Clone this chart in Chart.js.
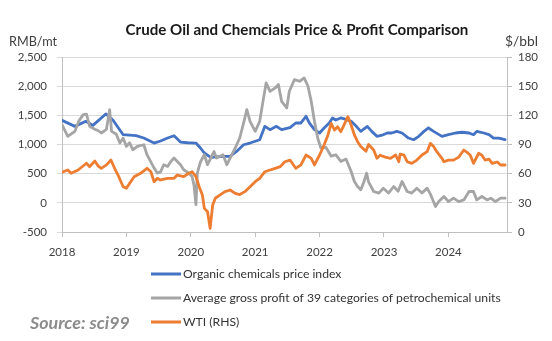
<!DOCTYPE html>
<html><head><meta charset="utf-8">
<script src="https://cdn.jsdelivr.net/npm/chart.js@4.4.1/dist/chart.umd.min.js"></script>
<style>html,body{margin:0;padding:0;background:#fff;}#wrap{position:relative;width:552px;height:341px;}</style>
</head><body><div id="wrap"><canvas id="c" width="552" height="341"></canvas></div>
<script>
const titleText = 'Crude Oil and Chemcials Price & Profit Comparison';
const leftUnit = 'RMB/mt';
const rightUnit = '$/bbl';
const sourceText = 'Source: sci99';
const seriesNames = ['Organic chemicals price index', 'Average gross profit of 39 categories of petrochemical units', 'WTI (RHS)'];
const xTickYears = [2018, 2019, 2020, 2021, 2022, 2023, 2024];
const leftTicks = [-500, 0, 500, 1000, 1500, 2000, 2500];
const rightTicks = [0, 30, 60, 90, 120, 150, 180];

// Organic chemicals price index (RMB/mt)
const chemDates = [
 2018.00,2018.20,2018.37,2018.48,2018.68,2018.79,2018.95,2019.15,2019.27,2019.43,
 2019.53,2019.64,2019.74,2019.84,2019.95,2020.08,2020.15,2020.21,2020.31,2020.50,
 2020.61,2020.71,2020.82,2020.92,2021.07,2021.15,2021.23,2021.33,2021.41,2021.54,
 2021.63,2021.71,2021.79,2021.84,2021.92,2022.00,2022.07,2022.15,2022.20,2022.25,
 2022.33,2022.41,2022.49,2022.57,2022.64,2022.74,2022.81,2022.89,2022.97,2023.05,
 2023.12,2023.20,2023.28,2023.38,2023.46,2023.54,2023.62,2023.69,2023.77,2023.90,
 2024.00,2024.11,2024.21,2024.32,2024.39,2024.44,2024.55,2024.63,2024.70,2024.78,
 2024.88];
const chemIndex = [
 1414,1311,1397,1328,1524,1420,1168,1151,1111,1025,
 1060,1111,1151,1042,1030,1025,940,854,780,795,
 795,881,996,1025,1082,1311,1254,1311,1254,1290,
 1369,1369,1483,1369,1254,1197,1283,1369,1455,1420,
 1455,1430,1397,1311,1225,1311,1225,1140,1160,1197,
 1197,1225,1197,1111,1082,1140,1225,1283,1225,1140,
 1168,1197,1210,1197,1168,1225,1197,1168,1111,1111,
 1082];

// Average gross profit of 39 petrochemical units (RMB/mt)
const profitDates = [
 2018.00,2018.09,2018.20,2018.26,2018.33,2018.38,2018.43,2018.51,2018.56,2018.61,
 2018.69,2018.74,2018.77,2018.84,2018.90,2018.95,2019.00,2019.05,2019.10,2019.17,
 2019.27,2019.32,2019.43,2019.48,2019.53,2019.58,2019.64,2019.69,2019.74,2019.79,
 2019.84,2019.89,2019.97,2020.02,2020.05,2020.08,2020.10,2020.13,2020.15,2020.21,
 2020.26,2020.31,2020.36,2020.40,2020.50,2020.56,2020.61,2020.69,2020.76,2020.82,
 2020.87,2020.92,2021.00,2021.07,2021.13,2021.17,2021.23,2021.31,2021.36,2021.41,
 2021.49,2021.53,2021.61,2021.69,2021.76,2021.82,2021.87,2021.92,2021.97,2022.02,
 2022.10,2022.18,2022.25,2022.33,2022.41,2022.49,2022.54,2022.59,2022.64,2022.69,
 2022.73,2022.76,2022.84,2022.92,2022.99,2023.07,2023.15,2023.22,2023.28,2023.36,
 2023.43,2023.51,2023.59,2023.67,2023.72,2023.80,2023.85,2023.93,2024.00,2024.08,
 2024.16,2024.24,2024.32,2024.39,2024.44,2024.52,2024.60,2024.66,2024.73,2024.81,
 2024.88];
const profitValues = [
 1340,1140,1225,1400,1512,1520,1311,1260,1240,1197,
 1260,1598,1225,1180,1025,1110,967,1030,910,967,
 996,825,596,510,530,653,624,710,768,710,
 653,567,510,452,300,-30,500,624,700,825,
 653,768,880,768,825,653,768,940,1111,1369,
 1598,1397,1225,1397,1799,2056,1912,1970,2027,1740,
 1627,1912,2113,2084,2142,1998,1740,1397,1111,940,
 950,800,825,710,750,538,366,280,223,366,
 510,360,194,167,250,167,280,200,366,194,
 167,250,167,252,150,-63,22,108,22,80,
 22,50,194,194,50,108,50,80,22,80,
 80];

// WTI ($/bbl, right axis)
const wtiDates = [
 2018.00,2018.09,2018.14,2018.25,2018.38,2018.43,2018.51,2018.56,2018.61,2018.69,
 2018.76,2018.82,2018.87,2018.95,2019.00,2019.05,2019.12,2019.22,2019.32,2019.38,
 2019.43,2019.48,2019.53,2019.64,2019.74,2019.79,2019.89,2019.97,2020.02,2020.08,
 2020.13,2020.18,2020.21,2020.26,2020.30,2020.34,2020.38,2020.45,2020.53,2020.61,
 2020.69,2020.76,2020.84,2020.92,2021.00,2021.07,2021.15,2021.23,2021.31,2021.39,
 2021.46,2021.54,2021.63,2021.71,2021.79,2021.87,2021.92,2022.00,2022.07,2022.13,
 2022.18,2022.23,2022.28,2022.33,2022.38,2022.44,2022.49,2022.54,2022.59,2022.64,
 2022.72,2022.76,2022.84,2022.89,2022.94,2023.02,2023.10,2023.18,2023.23,2023.25,
 2023.31,2023.36,2023.43,2023.51,2023.59,2023.67,2023.72,2023.77,2023.82,2023.90,
 2023.93,2024.00,2024.08,2024.16,2024.24,2024.29,2024.34,2024.39,2024.47,2024.52,
 2024.57,2024.63,2024.68,2024.76,2024.81,2024.88];
const wtiValues = [
 61.4,63.8,60.4,63.8,70.7,67.2,73,68,65.5,69,
 74,65,58.6,46.6,45,50,56.9,60.4,65.5,62,
 51.7,55.2,53.5,55.2,55.2,58.6,56.9,60.4,62,56.9,
 46.6,38,24.3,20.9,3.8,27.8,34.7,38,41.5,43.2,
 39.8,38.5,41.5,46.6,51.7,55.2,62,63.8,65.5,67.2,
 72.3,74,65.5,69,79.2,75.8,69,79.2,89.5,99.8,
 111.8,104.9,108.3,103.2,110.1,118.6,110,99.8,92.9,88,
 83,90,84.3,75.8,79,77,75.8,79.2,72.3,80,
 79,72.3,70.6,74,79.2,82.6,91.2,88,82.6,75.8,
 72.3,73.9,73.9,77,84.3,82,79,70.6,81,79,
 74,75,70.6,72,68.9,68.9];

const colors = ['#4472C4', '#A5A5A5', '#ED7D31'];
const FONT = 'Lato, "Noto Sans", sans-serif';

function pts(xs, ys){ return xs.map((x,i)=>({x:x, y:ys[i]})); }
function fitFont(ctx, text, weight, style, target){
  ctx.font = style + ' ' + weight + ' 100px ' + FONT;
  const w = ctx.measureText(text).width;
  const size = 100 * target / w;
  return style + ' ' + weight + ' ' + size.toFixed(2) + 'px ' + FONT;
}

const textPlugin = {
  id: 'texts',
  afterDraw(chart){
    const ctx = chart.ctx;
    ctx.save();
    ctx.textBaseline = 'middle';
    // title
    ctx.fillStyle = '#1a1a1a';
    ctx.textAlign = 'center';
    ctx.font = fitFont(ctx, titleText, 'bold', 'normal', 343);
    ctx.fillText(titleText, 297, 30);
    // units
    ctx.fillStyle = '#404040';
    ctx.textAlign = 'left';
    ctx.font = fitFont(ctx, leftUnit, 'normal', 'normal', 48);
    ctx.fillText(leftUnit, 9, 42);
    ctx.font = fitFont(ctx, rightUnit, 'normal', 'normal', 33);
    ctx.fillText(rightUnit, 505, 42);
    // legend
    const rows = [274, 298, 322];
    const legFont = fitFont(ctx, seriesNames[1], 'normal', 'normal', 318);
    chart.data.datasets.forEach((ds, i) => {
      const y = rows[i];
      ctx.strokeStyle = ds.borderColor;
      ctx.lineWidth = 3;
      ctx.beginPath(); ctx.moveTo(151, y); ctx.lineTo(181, y); ctx.stroke();
      ctx.fillStyle = '#333333';
      ctx.font = legFont;
      ctx.fillText(ds.label, 183, y);
    });
    // source
    ctx.fillStyle = '#8c8c8c';
    ctx.font = fitFont(ctx, sourceText, 'bold', 'italic', 100);
    ctx.fillText(sourceText, 30, 323);
    ctx.restore();
  }
};

new Chart(document.getElementById('c'), {
  type: 'line',
  data: {
    datasets: [
      {label: seriesNames[0], data: pts(chemDates, chemIndex), borderColor: colors[0], yAxisID: 'y', order: 2},
      {label: seriesNames[1], data: pts(profitDates, profitValues), borderColor: colors[1], yAxisID: 'y', order: 1},
      {label: seriesNames[2], data: pts(wtiDates, wtiValues), borderColor: colors[2], yAxisID: 'y1', order: 0}
    ]
  },
  options: {
    responsive: false,
    animation: false,
    devicePixelRatio: 1,
    layout: {padding: {top: 57, bottom: 80, left: 0, right: 0}},
    elements: {
      line: {borderWidth: 2.8, tension: 0, borderJoinStyle: 'round', borderCapStyle: 'round'},
      point: {radius: 0, hoverRadius: 0}
    },
    plugins: {legend: {display: false}, title: {display: false}, tooltip: {enabled: false}},
    scales: {
      x: {
        type: 'linear', min: xTickYears[0], max: 2024.91,
        afterFit(s){ s.height = 29; },
        afterBuildTicks(s){ s.ticks = xTickYears.map(v => ({value: v})); },
        ticks: {autoSkip: false, maxRotation: 0, padding: 8, color: '#404040', font: {family: FONT, size: 11.5},
                callback: v => String(v)},
        grid: {drawOnChartArea: false, tickLength: 5, color: '#bfbfbf'},
        border: {color: '#bfbfbf'}
      },
      y: {
        position: 'left', min: leftTicks[0], max: leftTicks[leftTicks.length-1],
        afterFit(s){ s.width = 62; },
        afterBuildTicks(s){ s.ticks = leftTicks.map(v => ({value: v})); },
        ticks: {padding: 10, color: '#404040', font: {family: FONT, size: 11.5},
                callback: v => v.toLocaleString('en-US')},
        grid: {color: '#d9d9d9', tickLength: 5},
        border: {color: '#bfbfbf'}
      },
      y1: {
        position: 'right', min: rightTicks[0], max: rightTicks[rightTicks.length-1],
        afterFit(s){ s.width = 45; },
        afterBuildTicks(s){ s.ticks = rightTicks.map(v => ({value: v})); },
        ticks: {padding: 6, color: '#404040', font: {family: FONT, size: 11.5},
                callback: v => String(v)},
        grid: {drawOnChartArea: false, tickLength: 5, color: '#bfbfbf'},
        border: {color: '#bfbfbf'}
      }
    }
  },
  plugins: [textPlugin]
});
</script>
</body></html>
